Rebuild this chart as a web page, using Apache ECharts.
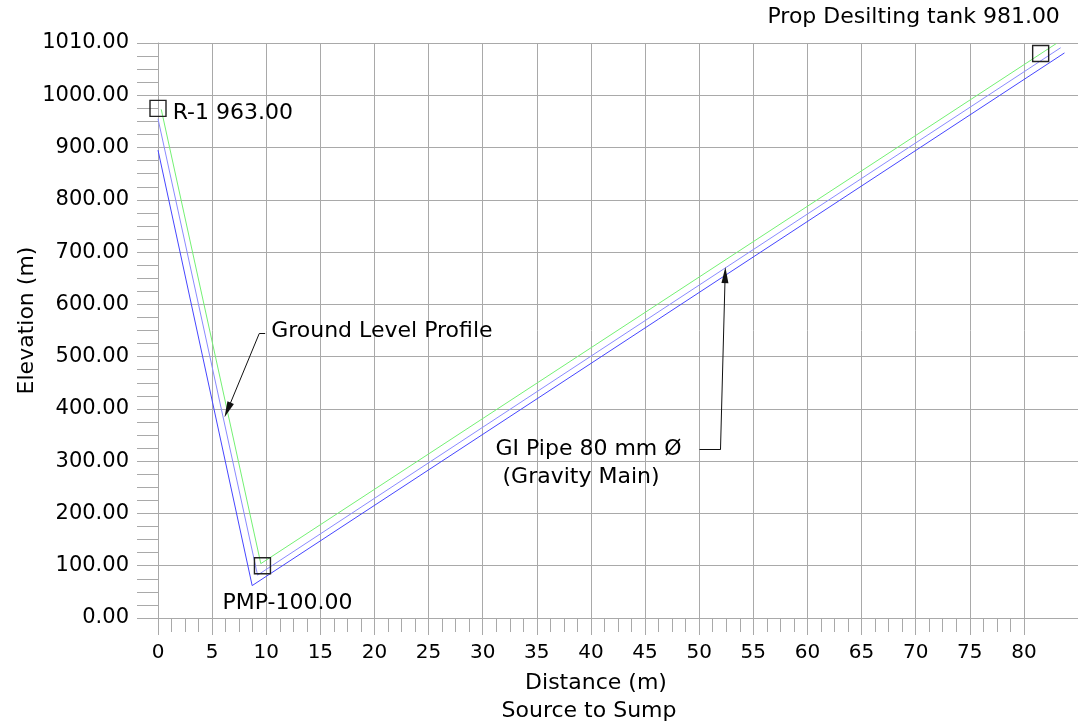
<!DOCTYPE html>
<html>
<head>
<meta charset="utf-8">
<script src="https://cdn.jsdelivr.net/npm/echarts@6/dist/echarts.min.js"></script>
<style>
  html, body { margin: 0; padding: 0; background: #fff; }
  #chart { width: 1078px; height: 726px; }
</style>
</head>
<body>
<div id="chart"></div>
<script>
// ---- data ----
const groundX = [0.3, 9.5, 83.0];
const groundY = [973, 104, 1099];
const pipeInnerX = [0, 9.2, 83.4];
const pipeInnerY = [955, 82, 1091];
const pipeOuterX = [0, 8.7, 83.75];
const pipeOuterY = [895, 62, 1081];

const nodeNames = ['R-1 963.00', 'PMP-100.00', 'Prop Desilting tank 981.00'];
const nodeX = [0, 9.65, 81.55];
const nodeY = [975, 100, 1080];

const groundNoteText = 'Ground Level Profile';
const groundNoteX = [9.9, 9.35, 6.43];
const groundNoteY = [544, 544, 398];
const pipeNoteText = ['GI Pipe 80 mm Ø', ' (Gravity Main)'];
const pipeNoteX = [50.03, 51.97, 52.4];
const pipeNoteY = [322, 322, 656];

const xTicks = [0, 5, 10, 15, 20, 25, 30, 35, 40, 45, 50, 55, 60, 65, 70, 75, 80];
const yTickLabels = ['0.00', '100.00', '200.00', '300.00', '400.00', '500.00',
  '600.00', '700.00', '800.00', '900.00', '1000.00', '1010.00'];
const xTitle = 'Distance (m)';
const xSubTitle = 'Source to Sump';
const yTitle = 'Elevation (m)';

// ---- build ----
const FONT = 'DejaVu Sans';
const GRID = '#a9a9a9';
const INK = '#000';
const pairs = (xs, ys) => xs.map((x, i) => [x, ys[i]]);

const xMinor = [];
for (let i = 0; i < xTicks.length - 1; i++) {
  const a = xTicks[i], b = xTicks[i + 1];
  for (let k = 1; k < 4; k++) xMinor.push(a + (b - a) * k / 4);
}

const nodeLabels = [
  { position: 'right', distance: 6, offset: [0, 5] },
  { position: 'bottom', distance: 18, offset: [25, 0] },
  { position: 'top', distance: 8, offset: [-127, -8] }
];

// leader polylines split into plain legs and arrow legs
const leaders = [pairs(groundNoteX, groundNoteY), pairs(pipeNoteX, pipeNoteY)];
const plainLegs = [], arrowLegs = [];
leaders.forEach(pts => {
  for (let i = 0; i < pts.length - 2; i++) plainLegs.push({ coords: [pts[i], pts[i + 1]] });
  arrowLegs.push({ coords: [pts[pts.length - 2], pts[pts.length - 1]] });
});

const chart = echarts.init(document.getElementById('chart'), null, { renderer: 'canvas' });
chart.setOption({
  animation: false,
  backgroundColor: '#ffffff',
  grid: { left: 158, top: 43, width: 921, bottom: 108, containLabel: false },
  xAxis: [{
    type: 'value', min: 0, max: 85, interval: 5,
    axisLine: { show: true, lineStyle: { color: GRID, width: 1 } },
    axisTick: { show: true, length: 17, customValues: xTicks, lineStyle: { color: GRID } },
    axisLabel: { customValues: xTicks, margin: 25, fontSize: 20, fontFamily: FONT, color: INK },
    splitLine: { show: true, lineStyle: { color: GRID, width: 1 } }
  }, {
    type: 'value', min: 0, max: 85, position: 'bottom', gridIndex: 0,
    axisLine: { show: false },
    axisTick: { show: true, length: 14, customValues: xMinor, lineStyle: { color: GRID } },
    axisLabel: { show: false },
    splitLine: { show: false }
  }],
  yAxis: {
    type: 'value', min: 0, max: 1100, interval: 100,
    name: yTitle, nameLocation: 'middle', nameGap: 120, nameMoveOverlap: false,
    nameTextStyle: { fontSize: 22, fontFamily: FONT, color: INK, padding: [0, 0, 0, 20] },
    axisLine: { show: true, lineStyle: { color: GRID, width: 1 } },
    axisTick: { show: true, length: 21, lineStyle: { color: GRID } },
    minorTick: { show: true, splitNumber: 4, length: 21, lineStyle: { color: GRID } },
    axisLabel: {
      margin: 29, fontSize: 21, fontFamily: FONT, color: INK, padding: [6, 0, 0, 0],
      formatter: v => yTickLabels[Math.round(v / 100)]
    },
    splitLine: { show: true, lineStyle: { color: GRID, width: 1 } }
  },
  graphic: [
    { type: 'text', x: 596, y: 683, style: { text: xTitle, textAlign: 'center', textVerticalAlign: 'middle', font: '22px "' + FONT + '"', fill: INK } },
    { type: 'text', x: 589, y: 711, style: { text: xSubTitle, textAlign: 'center', textVerticalAlign: 'middle', font: '22px "' + FONT + '"', fill: INK } }
  ],
  series: [
    { name: 'Ground', type: 'line', data: pairs(groundX, groundY), symbol: 'none',
      lineStyle: { color: '#74f074', width: 1 }, silent: true },
    { name: 'PipeInner', type: 'line', data: pairs(pipeInnerX, pipeInnerY), symbol: 'none',
      lineStyle: { color: '#8a8aff', width: 1 }, silent: true },
    { name: 'PipeOuter', type: 'line', data: pairs(pipeOuterX, pipeOuterY), symbol: 'none',
      lineStyle: { color: '#4646ff', width: 1 }, silent: true },
    { name: 'Nodes', type: 'scatter', symbol: 'rect', symbolSize: 16,
      itemStyle: { color: 'rgba(0,0,0,0)', borderColor: '#222', borderWidth: 1.4, opacity: 1 },
      data: nodeNames.map((n, i) => ({
        value: [nodeX[i], nodeY[i]], name: n,
        label: Object.assign({ show: true, formatter: n, fontSize: 22, fontFamily: FONT, color: INK }, nodeLabels[i])
      })), z: 5 },
    { name: 'LeaderLegs', type: 'lines', coordinateSystem: 'cartesian2d',
      symbol: ['none', 'none'],
      lineStyle: { color: '#111', width: 1, opacity: 1, curveness: 0 },
      data: plainLegs, z: 6 },
    { name: 'LeaderArrows', type: 'lines', coordinateSystem: 'cartesian2d',
      symbol: ['none', 'triangle'], symbolSize: [0, [7, 16]],
      lineStyle: { color: '#111', width: 1, opacity: 1, curveness: 0 },
      data: arrowLegs, z: 6 },
    { name: 'Notes', type: 'scatter', symbolSize: 0, silent: true,
      itemStyle: { opacity: 1 },
      data: [
        { value: [groundNoteX[0], groundNoteY[0]],
          label: { show: true, position: 'right', distance: 6, offset: [0, -2],
                   formatter: groundNoteText, fontSize: 22, fontFamily: FONT, color: INK } },
        { value: [pipeNoteX[0], pipeNoteY[0]],
          label: { show: true, position: 'left', distance: 12, offset: [-192, 14], align: 'left',
                   lineHeight: 28, formatter: pipeNoteText.join('\n'), fontSize: 22, fontFamily: FONT, color: INK } }
      ], z: 6 }
  ]
});
</script>
</body>
</html>
